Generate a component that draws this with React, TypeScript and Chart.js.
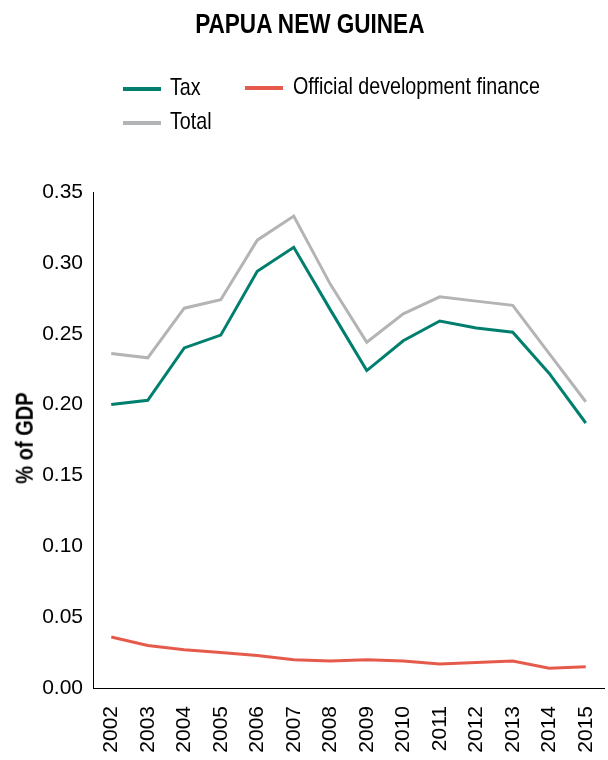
import React, { useEffect, useRef } from "react";
import { Chart, registerables } from "chart.js";

Chart.register(...registerables);

const years = ["2002", "2003", "2004", "2005", "2006", "2007", "2008", "2009", "2010", "2011", "2012", "2013", "2014", "2015"];
const taxValues = [0.200, 0.203, 0.240, 0.249, 0.294, 0.311, 0.267, 0.224, 0.245, 0.259, 0.254, 0.251, 0.222, 0.187];
const totalValues = [0.236, 0.233, 0.268, 0.274, 0.316, 0.333, 0.285, 0.244, 0.264, 0.276, 0.273, 0.270, 0.236, 0.202];
const odfValues = [0.036, 0.030, 0.027, 0.025, 0.023, 0.020, 0.019, 0.020, 0.019, 0.017, 0.018, 0.019, 0.014, 0.015];

const TAX_COLOR = "#007f6e";
const TOTAL_COLOR = "#b3b4b6";
const ODF_COLOR = "#e65a4c";

const SANS = "'Liberation Sans', Arial, Helvetica, sans-serif";
const CONDENSE = 0.82;

export default function App() {
  const canvasRef = useRef<HTMLCanvasElement | null>(null);

  useEffect(() => {
    if (!canvasRef.current) return;
    const chart = new Chart(canvasRef.current, {
      type: "line",
      data: {
        labels: years,
        datasets: [
          { label: "Total", data: totalValues, borderColor: TOTAL_COLOR, backgroundColor: TOTAL_COLOR, borderWidth: 3, pointRadius: 0, tension: 0, fill: false },
          { label: "Tax", data: taxValues, borderColor: TAX_COLOR, backgroundColor: TAX_COLOR, borderWidth: 3, pointRadius: 0, tension: 0, fill: false },
          { label: "Official development finance", data: odfValues, borderColor: ODF_COLOR, backgroundColor: ODF_COLOR, borderWidth: 3, pointRadius: 0, tension: 0, fill: false },
        ],
      },
      options: {
        responsive: false,
        animation: false,
        devicePixelRatio: 1,
        color: "#000",
        layout: { padding: { left: 0, right: 4, top: 192, bottom: 0 } },
        plugins: {
          legend: { display: false },
          tooltip: { enabled: false },
          title: { display: false },
        },
        scales: {
          x: {
            offset: true,
            grid: { display: false, drawTicks: false },
            border: { display: true, color: "#000", width: 1 },
            ticks: {
              autoSkip: false,
              minRotation: 90,
              maxRotation: 90,
              padding: 18,
              color: "#000",
              font: { family: SANS, size: 21 },
            },
            afterFit: (scale: any) => {
              scale.height = 72;
              scale.paddingLeft = 0;
              scale.paddingRight = 0;
            },
          },
          y: {
            min: 0,
            max: 0.35,
            grid: { display: false, drawTicks: false },
            border: { display: true, color: "#000", width: 1 },
            ticks: {
              stepSize: 0.05,
              padding: 10,
              color: "#000",
              font: { family: SANS, size: 21 },
              callback: (v: any) => Number(v).toFixed(2),
            },
            title: { display: false },
            afterFit: (scale: any) => { scale.width = 93; },
          },
        },
      },
    });
    return () => chart.destroy();
  }, []);

  const swatch = (left: number, top: number, color: string) => (
    <div style={{ position: "absolute", left, top, width: 38, height: 4, background: color }} />
  );
  const label = (left: number, top: number, text: string) => (
    <span
      style={{
        position: "absolute",
        left,
        top,
        fontFamily: SANS,
        fontSize: 24,
        lineHeight: "24px",
        color: "#000",
        whiteSpace: "nowrap",
        transform: `scaleX(${CONDENSE})`,
        transformOrigin: "0 0",
      }}
    >
      {text}
    </span>
  );

  return (
    <div style={{ position: "absolute", left: 0, top: 0, width: 608, height: 760, background: "#fff", overflow: "hidden" }}>
      <canvas ref={canvasRef} width={608} height={760} style={{ width: 608, height: 760, display: "block" }} />
      <div style={{ position: "absolute", left: 0, top: 10, width: 620, textAlign: "center" }}>
        <span
          style={{
            display: "inline-block",
            fontFamily: SANS,
            fontWeight: "bold",
            fontSize: 27.5,
            lineHeight: "27.5px",
            color: "#000",
            whiteSpace: "nowrap",
            transform: `scaleX(${CONDENSE})`,
            transformOrigin: "50% 50%",
          }}
        >
          PAPUA NEW GUINEA
        </span>
      </div>
      {swatch(123, 87, TAX_COLOR)}
      {label(170, 75, "Tax")}
      {swatch(245, 86, ODF_COLOR)}
      {label(293, 74, "Official development finance")}
      {swatch(123, 121, TOTAL_COLOR)}
      {label(170, 109, "Total")}
      <div
        style={{
          position: "absolute",
          left: 24.5,
          top: 438,
          fontFamily: SANS,
          fontWeight: "bold",
          fontSize: 24.5,
          lineHeight: "24.5px",
          color: "#000",
          whiteSpace: "nowrap",
          transform: `translate(-50%, -50%) rotate(-90deg) scaleX(${CONDENSE})`,
        }}
      >
        % of GDP
      </div>
    </div>
  );
}
